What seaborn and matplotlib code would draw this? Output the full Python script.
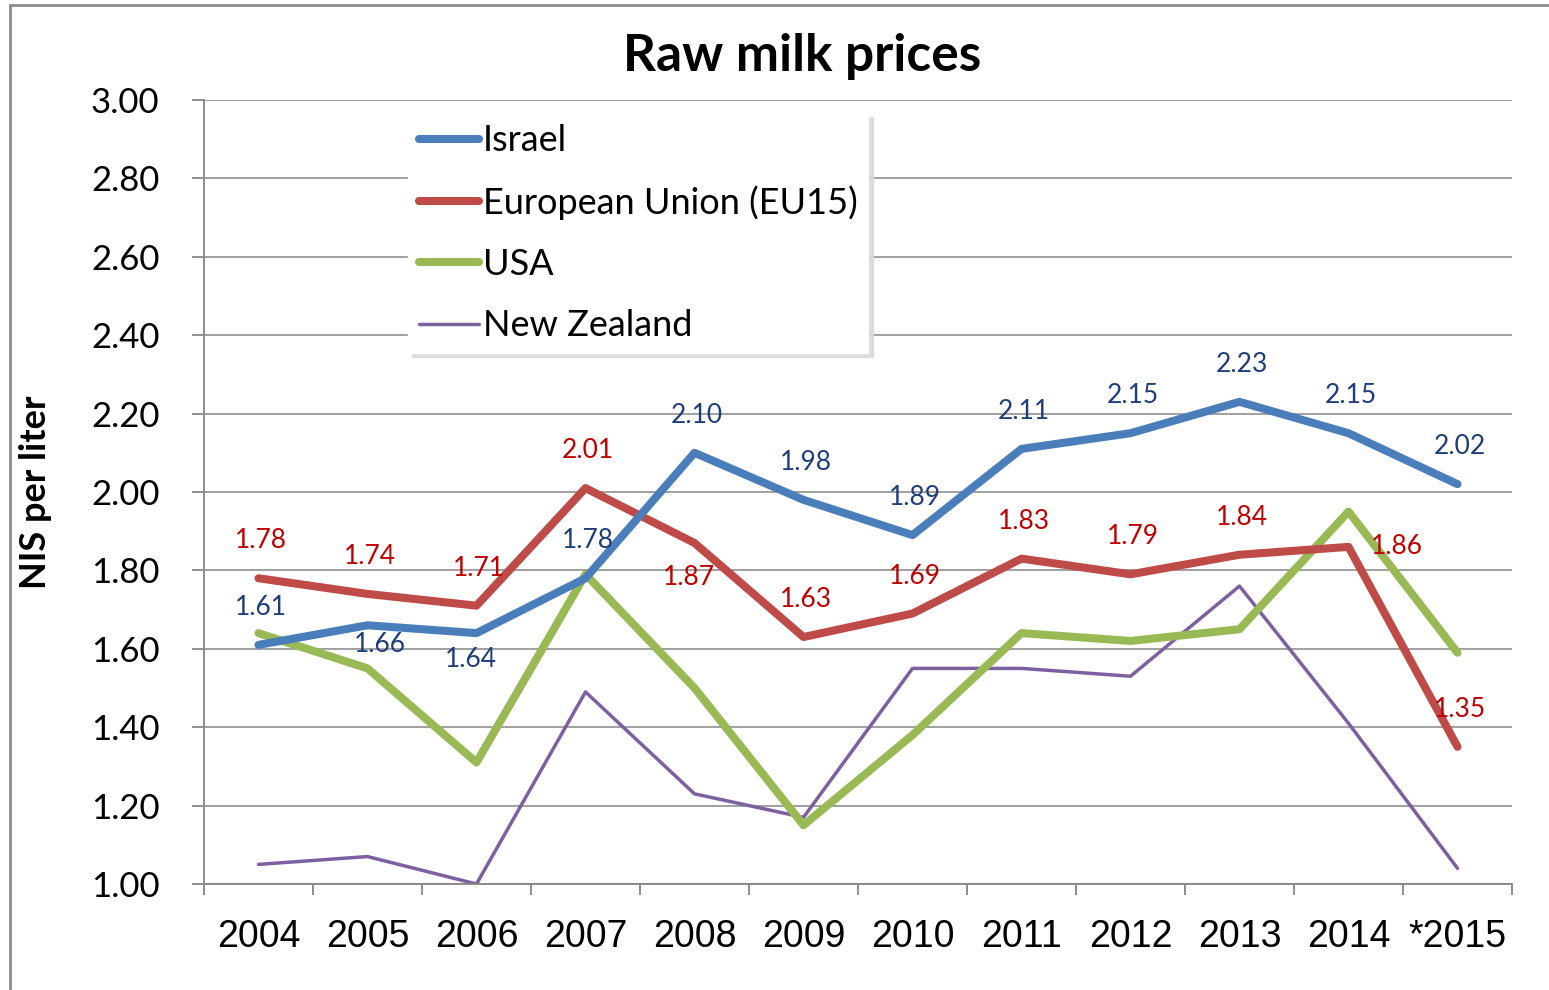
import pandas as pd
import numpy as np
import matplotlib
matplotlib.use('Agg')
import matplotlib.pyplot as plt
import seaborn as sns
from matplotlib.lines import Line2D
from matplotlib.ticker import MultipleLocator, FixedLocator

# data (NIS per liter)
years = ['2004', '2005', '2006', '2007', '2008', '2009', '2010', '2011', '2012', '2013', '2014', '*2015']
israel = [1.61, 1.66, 1.64, 1.78, 2.10, 1.98, 1.89, 2.11, 2.15, 2.23, 2.15, 2.02]
eu15 = [1.78, 1.74, 1.71, 2.01, 1.87, 1.63, 1.69, 1.83, 1.79, 1.84, 1.86, 1.35]
usa = [1.64, 1.55, 1.31, 1.79, 1.50, 1.15, 1.38, 1.64, 1.62, 1.65, 1.95, 1.59]
nz = [1.05, 1.07, 1.00, 1.49, 1.23, 1.17, 1.55, 1.55, 1.53, 1.76, 1.41, 1.04]

names = ['Israel', 'European Union (EU15)', 'USA', 'New Zealand']
colors = ['#4A7EBB', '#BE4B48', '#98B954', '#7D60A0']
widths = [5.8, 5.8, 5.8, 2.5]

df = pd.DataFrame({'year': years, 'Israel': israel, 'European Union (EU15)': eu15,
                   'USA': usa, 'New Zealand': nz})
long_df = df.melt(id_vars='year', var_name='country', value_name='price')

sns.set_theme(style='white')
plt.rcParams['font.family'] = ['Lato', 'DejaVu Sans']
plt.rcParams['text.color'] = 'black'
plt.rcParams['axes.labelcolor'] = 'black'
plt.rcParams['xtick.labelcolor'] = 'black'
plt.rcParams['ytick.labelcolor'] = 'black'

fig = plt.figure(figsize=(15.49, 9.9), dpi=100)
ax = fig.add_axes([204 / 1549, 1 - 884 / 990, 1308 / 1549, 784 / 990])

# draw in reverse so Israel ends up on top
for name, c, lw in reversed(list(zip(names, colors, widths))):
    sns.lineplot(data=long_df[long_df['country'] == name], x='year', y='price',
                 color=c, linewidth=lw, ax=ax, sort=False, legend=False,
                 solid_capstyle='round', solid_joinstyle='round')

ax.set_xlim(-0.5, 11.5)
ax.set_ylim(1.0, 3.0)
ax.yaxis.set_major_locator(MultipleLocator(0.2))
ax.yaxis.set_major_formatter(matplotlib.ticker.FormatStrFormatter('%.2f'))
ax.grid(axis='y', color='#868686', linewidth=1.1)
ax.grid(axis='x', visible=False)
ax.set_axisbelow(True)

for s in ['top', 'right']:
    ax.spines[s].set_visible(False)
for s in ['left', 'bottom']:
    ax.spines[s].set_color('#868686')
    ax.spines[s].set_linewidth(1.3)

ax.xaxis.set_minor_locator(FixedLocator(np.arange(-0.5, 12, 1)))
ax.tick_params(axis='x', which='major', length=0, pad=25, labelsize=27, labelcolor='black')
ax.tick_params(axis='x', which='minor', length=8, width=1.3, color='#868686', direction='out', bottom=True)
ax.tick_params(axis='y', which='major', length=9, width=1.3, color='#868686', direction='out', left=True,
               pad=23, labelsize=25, labelcolor='black')
for lab in ax.get_xticklabels():
    lab.set_fontfamily('Liberation Sans')
ax.set_xlabel('')
ax.set_ylabel('NIS per liter', fontsize=26, fontweight='bold', color='black')
ax.yaxis.set_label_coords(-152 / 1308, 0.5)

# data labels (offsets in points)
default_off = (2, 27)
special = {('Israel', 1): (9, -14), ('Israel', 2): (-4, -19),
           ('EU', 4): (-4, -25), ('EU', 10): (35, 0)}
for key, vals, col in [('Israel', israel, '#1F3D7A'), ('EU', eu15, '#C00000')]:
    for i, v in enumerate(vals):
        off = special.get((key, i), default_off)
        ax.annotate(f'{v:.2f}', (i, v), xytext=off, textcoords='offset points',
                    ha='center', va='center', fontsize=19, color=col)

handles = [Line2D([0], [0], color=c, linewidth=lw, solid_capstyle='round') for c, lw in zip(colors, widths)]
leg = ax.legend(handles, names, loc='upper left', bbox_to_anchor=(0.156, 0.983),
                fontsize=26, handlelength=1.67, handletextpad=0.1, labelspacing=0.78,
                borderpad=0.3, borderaxespad=0, frameon=True, fancybox=False,
                shadow={'ox': 3, 'oy': -3, 'color': '0.85', 'alpha': 0.9})
leg.get_frame().set_edgecolor('white')
leg.get_frame().set_facecolor('white')
leg.get_frame().set_alpha(1)
for t in leg.get_texts():
    t.set_color('black')

fig.text(802 / 1549, 1 - 57 / 990, 'Raw milk prices', ha='center', va='center',
         fontsize=37, fontweight='bold', color='black')

# outer chart border (left and top edges visible)
fig.add_artist(Line2D([10 / 1549, 10 / 1549], [0, 1 - 5 / 990], transform=fig.transFigure, color='#8C8C8C', linewidth=2))
fig.add_artist(Line2D([10 / 1549, 1], [1 - 5 / 990, 1 - 5 / 990], transform=fig.transFigure, color='#8C8C8C', linewidth=2))

fig.savefig('out.png', dpi=100)
